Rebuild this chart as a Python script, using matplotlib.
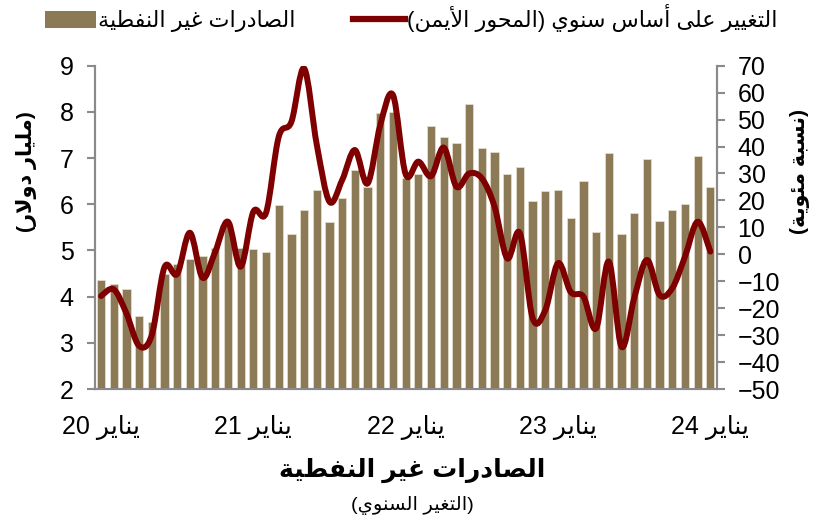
import re
import numpy as np
import matplotlib
matplotlib.use('Agg')
import matplotlib.pyplot as plt
from matplotlib.path import Path
from matplotlib.patches import PathPatch, Patch
from matplotlib.lines import Line2D

plt.rcParams['font.family'] = ['Liberation Sans', 'DejaVu Sans']

# monthly data, Jan 2020 .. Jan 2024
exports = [4.36, 4.27, 4.17, 3.58, 3.45, 4.48, 4.70, 4.82, 4.88, 5.06, 5.60, 5.06,
           5.03, 4.97, 5.98, 5.35, 5.87, 6.31, 5.61, 6.13, 6.74, 6.37, 7.98, 8.00,
           6.56, 6.66, 7.70, 7.45, 7.32, 8.18, 7.22, 7.13, 6.65, 6.80, 6.06, 6.29,
           6.31, 5.71, 6.51, 5.40, 7.12, 5.36, 5.82, 6.97, 5.64, 5.87, 6.01, 7.04,
           6.37]
yoy = [-15.5, -13.0, -21.9, -34.0, -30.0, -4.8, -7.3, 8.0, -8.7, 1.0, 12.1, -4.6,
       15.8, 15.4, 43.6, 49.2, 69.0, 40.6, 19.5, 27.6, 38.7, 26.3, 48.0, 59.1,
       29.7, 34.4, 29.0, 39.6, 25.1, 30.0, 28.2, 17.7, -1.5, 7.8, -23.7, -20.7,
       -3.3, -14.0, -15.7, -27.5, -2.7, -34.3, -16.3, -2.1, -15.1, -12.6, -0.9, 12.1,
       1.0]
tick_pos = [0, 12, 24, 36, 48]
tick_years = ['20', '21', '22', '23', '24']

BAR_COLOR = '#8C7A57'
LINE_COLOR = '#7F0000'
AXIS_COLOR = '#8A8A8A'

# arabic letter -> (isolated, final, initial, medial)
FORMS = {
    'ا': (0xFE8D, 0xFE8E, None, None),
    'أ': (0xFE83, 0xFE84, None, None),
    'ب': (0xFE8F, 0xFE90, 0xFE91, 0xFE92),
    'ة': (0xFE93, 0xFE94, None, None),
    'ت': (0xFE95, 0xFE96, 0xFE97, 0xFE98),
    'ح': (0xFEA1, 0xFEA2, 0xFEA3, 0xFEA4),
    'د': (0xFEA9, 0xFEAA, None, None),
    'ر': (0xFEAD, 0xFEAE, None, None),
    'س': (0xFEB1, 0xFEB2, 0xFEB3, 0xFEB4),
    'ص': (0xFEB9, 0xFEBA, 0xFEBB, 0xFEBC),
    'ط': (0xFEC1, 0xFEC2, 0xFEC3, 0xFEC4),
    'ع': (0xFEC9, 0xFECA, 0xFECB, 0xFECC),
    'غ': (0xFECD, 0xFECE, 0xFECF, 0xFED0),
    'ف': (0xFED1, 0xFED2, 0xFED3, 0xFED4),
    'ل': (0xFEDD, 0xFEDE, 0xFEDF, 0xFEE0),
    'م': (0xFEE1, 0xFEE2, 0xFEE3, 0xFEE4),
    'ن': (0xFEE5, 0xFEE6, 0xFEE7, 0xFEE8),
    'و': (0xFEED, 0xFEEE, None, None),
    'ى': (0xFEEF, 0xFEF0, None, None),
    'ي': (0xFEF1, 0xFEF2, 0xFEF3, 0xFEF4),
    'ئ': (0xFE89, 0xFE8A, 0xFE8B, 0xFE8C),
}
LAM_ALEF = {'ا': (0xFEFB, 0xFEFC), 'أ': (0xFEF7, 0xFEF8)}


def ar(text):
    # shape the letters, then put them in visual (right-to-left) order
    out = []
    prev_joins = False
    i = 0
    while i < len(text):
        c = text[i]
        nxt = text[i + 1] if i + 1 < len(text) else ''
        if c not in FORMS:
            out.append(c)
            prev_joins = False
            i += 1
            continue
        if c == 'ل' and nxt in LAM_ALEF:
            iso, fin = LAM_ALEF[nxt]
            out.append(chr(fin if prev_joins else iso))
            prev_joins = False
            i += 2
            continue
        iso, fin, ini, med = FORMS[c]
        next_joins = ini is not None and nxt in FORMS
        if prev_joins and next_joins:
            g = med
        elif prev_joins:
            g = fin
        elif next_joins:
            g = ini
        else:
            g = iso
        out.append(chr(g))
        prev_joins = ini is not None
        i += 1
    runs = re.findall(r'\d+|\D', ''.join(out))[::-1]
    swap = {'(': ')', ')': '('}
    return ''.join(swap.get(r, r) for r in runs)


def smooth_path(xs, ys):
    # catmull-rom style bezier through the points (like excel's smoothed line)
    pts = np.column_stack([xs, ys]).astype(float)
    padded = np.vstack([pts[0], pts, pts[-1]])
    verts = [pts[0]]
    codes = [Path.MOVETO]
    for i in range(len(pts) - 1):
        p0, p1, p2, p3 = padded[i], padded[i + 1], padded[i + 2], padded[i + 3]
        verts += [p1 + (p2 - p0) / 6, p2 - (p3 - p1) / 6, p2]
        codes += [Path.CURVE4] * 3
    return Path(verts, codes)


fig = plt.figure(figsize=(8.16, 5.24), dpi=100)
ax = fig.add_axes([0.1160, 0.2576, 0.7623, 0.6170])
ax2 = ax.twinx()

x = np.arange(len(exports))
ax.bar(x, exports, width=0.65, color=BAR_COLOR, edgecolor='#E9E2D2', linewidth=0.5)
ax.set_ylim(2, 9)
ax.set_xlim(-0.5, len(exports) - 0.5)
ax.set_yticks(range(2, 10))

ax2.add_patch(PathPatch(smooth_path(x, yoy), fill=False, edgecolor=LINE_COLOR,
                        linewidth=4.3, capstyle='round', joinstyle='round'))
ax2.set_ylim(-50, 70)
ax2.set_yticks(range(-50, 71, 10))

ax.set_xticks(tick_pos)
ax.set_xticklabels([ar('يناير ' + y) for y in tick_years])

for a in (ax, ax2):
    for s in a.spines.values():
        s.set_color(AXIS_COLOR)
        s.set_linewidth(1.5)
    a.spines['top'].set_visible(False)
    a.tick_params(axis='y', length=6, width=1.5, color=AXIS_COLOR, labelsize=18, pad=9)
ax.tick_params(axis='x', length=0, labelsize=18, pad=19)

fig.text(0.032, 0.672, ar('(مليار دولار)'), rotation=90, fontsize=15,
         fontweight='bold', ha='center', va='center')
fig.text(0.981, 0.672, ar('(نسبة مئوية)'), rotation=90, fontsize=15,
         fontweight='bold', ha='center', va='center')

fig.text(0.505, 0.103, ar('الصادرات غير النفطية'), fontsize=18, fontweight='bold',
         ha='center', va='center')
fig.text(0.505, 0.035, ar('(التغير السنوي)'), fontsize=14, ha='center', va='center')

handles = [Patch(facecolor=BAR_COLOR), Line2D([], [], color=LINE_COLOR, linewidth=4.5)]
labels = [ar('الصادرات غير النفطية'), ar('التغيير على أساس سنوي (المحور الأيمن)')]
fig.legend(handles, labels, ncol=2, loc='center left', bbox_to_anchor=(0.055, 0.965),
           frameon=False, fontsize=16, handlelength=2.3, handleheight=0.75,
           handletextpad=0.1, columnspacing=2.6, borderaxespad=0, borderpad=0)

fig.savefig('out.png', dpi=100)
